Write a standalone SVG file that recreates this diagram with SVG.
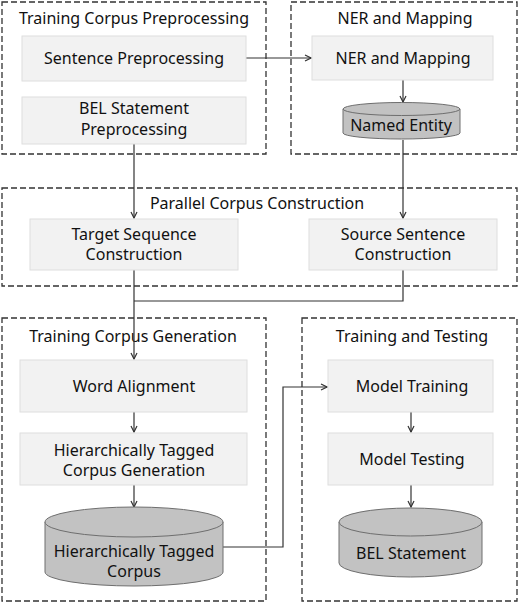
<svg xmlns="http://www.w3.org/2000/svg" width="520" height="603" viewBox="0 0 520 603">
<style>
.bg{fill:#ffffff}
.grp{fill:none;stroke:#333;stroke-width:1.3;stroke-dasharray:6 3}
.box{fill:#f2f2f2;stroke:#dedede;stroke-width:1}
.cyl{fill:#c2c2c2;stroke:#6e6e6e;stroke-width:1}
.t{font-family:"Noto Sans","Open Sans","DejaVu Sans",sans-serif;font-size:16px;fill:#111;text-anchor:middle}
.ln{fill:none;stroke:#333;stroke-width:1.2}
</style>
<defs>
<marker id="ah" viewBox="0 0 8 8" refX="7" refY="4" markerWidth="8" markerHeight="8" markerUnits="userSpaceOnUse" orient="auto">
<path d="M1,1 L7,4 L1,7" fill="none" stroke="#333" stroke-width="1.2"/>
</marker>
</defs>
<rect class="bg" x="0" y="0" width="520" height="603"/>

<g id="grp-preprocessing">
<rect class="grp" x="2" y="2" width="264" height="152"/>
<text class="t" x="134" y="24">Training Corpus Preprocessing</text>
</g>
<g id="grp-ner">
<rect class="grp" x="291" y="2" width="226" height="152"/>
<text class="t" x="405" y="24">NER and Mapping</text>
</g>
<g id="grp-parallel">
<rect class="grp" x="2" y="188" width="515" height="98"/>
<text class="t" x="257" y="209">Parallel Corpus Construction</text>
</g>
<g id="grp-generation">
<rect class="grp" x="2" y="318" width="264" height="283"/>
<text class="t" x="133" y="342">Training Corpus Generation</text>
</g>
<g id="grp-training">
<rect class="grp" x="302" y="318" width="215" height="283"/>
<text class="t" x="412" y="342">Training and Testing</text>
</g>

<g id="connectors">
<path class="ln" d="M246,58 H311" marker-end="url(#ah)"/>
<path class="ln" d="M403,80 V102" marker-end="url(#ah)"/>
<path class="ln" d="M134,144 V218" marker-end="url(#ah)"/>
<path class="ln" d="M403,140 V218" marker-end="url(#ah)"/>
<path class="ln" d="M134,270 V359" marker-end="url(#ah)"/>
<path class="ln" d="M403,270 V301 H134"/>
<path class="ln" d="M134,412 V432" marker-end="url(#ah)"/>
<path class="ln" d="M134,485 V507" marker-end="url(#ah)"/>
<path class="ln" d="M223,547 H283 V387 H327" marker-end="url(#ah)"/>
<path class="ln" d="M411,412 V432" marker-end="url(#ah)"/>
<path class="ln" d="M411,485 V507" marker-end="url(#ah)"/>
</g>

<g id="sentence-preprocessing">
<rect class="box" x="22" y="36" width="224" height="45"/>
<text class="t" x="134" y="64">Sentence Preprocessing</text>
</g>
<g id="bel-preprocessing">
<rect class="box" x="22" y="97" width="224" height="47"/>
<text class="t" x="134" y="114">BEL Statement</text>
<text class="t" x="134" y="135">Preprocessing</text>
</g>
<g id="ner-mapping">
<rect class="box" x="312" y="36" width="181" height="44"/>
<text class="t" x="403" y="64">NER and Mapping</text>
</g>
<g id="named-entity">
<path class="cyl" d="M343,109 V133 A58.5,6 0 0 0 460,133 V109"/>
<ellipse class="cyl" cx="401.5" cy="109" rx="58.5" ry="6.5"/>
<text class="t" x="401" y="131">Named Entity</text>
</g>
<g id="target-sequence">
<rect class="box" x="30" y="219" width="208" height="51"/>
<text class="t" x="134" y="240">Target Sequence</text>
<text class="t" x="134" y="260">Construction</text>
</g>
<g id="source-sentence">
<rect class="box" x="309" y="219" width="188" height="51"/>
<text class="t" x="403" y="240">Source Sentence</text>
<text class="t" x="403" y="260">Construction</text>
</g>
<g id="word-alignment">
<rect class="box" x="20" y="360" width="227" height="52"/>
<text class="t" x="134" y="392">Word Alignment</text>
</g>
<g id="htc-generation">
<rect class="box" x="20" y="433" width="227" height="52"/>
<text class="t" x="134" y="456">Hierarchically Tagged</text>
<text class="t" x="134" y="476">Corpus Generation</text>
</g>
<g id="htc-corpus">
<path class="cyl" d="M45,522 V572 A89,14 0 0 0 223,572 V522"/>
<ellipse class="cyl" cx="134" cy="522" rx="89" ry="15"/>
<text class="t" x="134" y="557">Hierarchically Tagged</text>
<text class="t" x="134" y="577">Corpus</text>
</g>
<g id="model-training">
<rect class="box" x="328" y="360" width="165" height="52"/>
<text class="t" x="412" y="392">Model Training</text>
</g>
<g id="model-testing">
<rect class="box" x="328" y="433" width="165" height="52"/>
<text class="t" x="412" y="465">Model Testing</text>
</g>
<g id="bel-statement">
<path class="cyl" d="M339,522 V563 A71.5,14 0 0 0 482,563 V522"/>
<ellipse class="cyl" cx="410.5" cy="522" rx="71.5" ry="14"/>
<text class="t" x="411" y="559">BEL Statement</text>
</g>
</svg>
